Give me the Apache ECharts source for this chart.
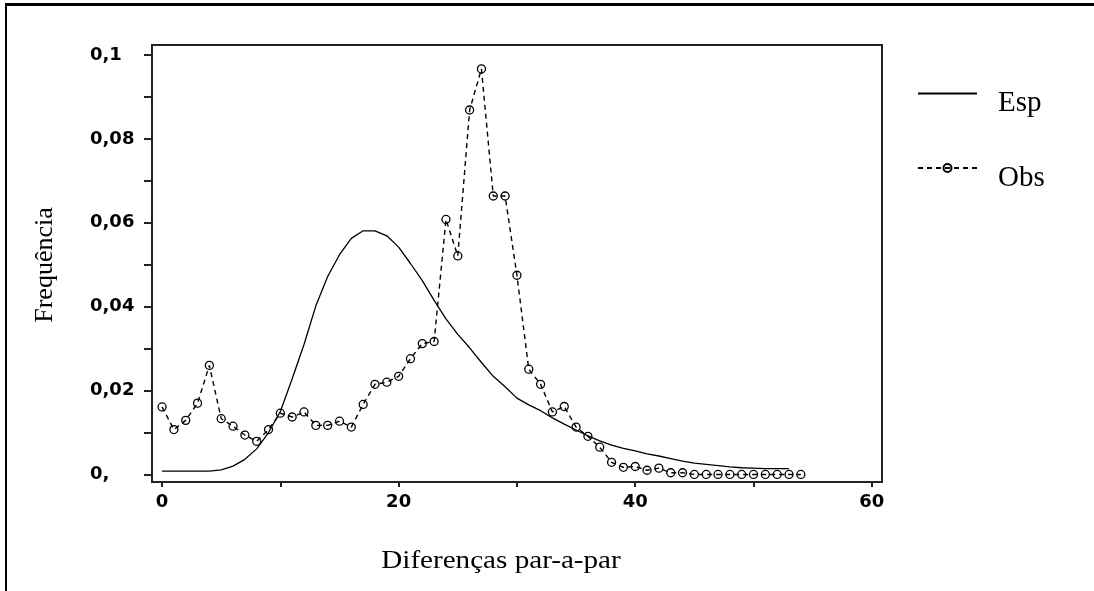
<!DOCTYPE html>
<html>
<head>
<meta charset="utf-8">
<script src="https://cdn.jsdelivr.net/npm/echarts@6/dist/echarts.min.js"></script>
<style>
  html, body { margin: 0; padding: 0; background: #fff; }
  #chart { width: 1094px; height: 591px; }
</style>
</head>
<body>
<div id="chart"></div>
<script>
// Pairwise differences (0..54)
const diffs = [0,1,2,3,4,5,6,7,8,9,10,11,12,13,14,15,16,17,18,19,20,21,22,23,24,25,26,27,28,29,30,31,32,33,34,35,36,37,38,39,40,41,42,43,44,45,46,47,48,49,50,51,52,53,54];

// Expected frequencies (Esp), defined up to 53
const esp = [0.0008,0.0008,0.0008,0.0008,0.0008,0.0011,0.0020,0.0036,0.0061,0.0100,
             0.0150,0.0228,0.0310,0.0402,0.0472,0.0524,0.0563,0.0581,0.0581,0.0569,
             0.0542,0.0503,0.0462,0.0415,0.0371,0.0334,0.0302,0.0267,0.0234,0.0209,
             0.0182,0.0166,0.0152,0.0135,0.0120,0.0106,0.0092,0.0080,0.0070,0.0062,
             0.0056,0.0049,0.0044,0.0038,0.0032,0.0027,0.0024,0.0021,0.0018,0.0016,
             0.0015,0.0014,0.0014,0.0014];

// Observed frequencies (Obs)
const obs = [0.0161,0.0107,0.0129,0.0170,0.0260,0.0133,0.0115,0.0094,0.0079,0.0107,
             0.0146,0.0137,0.0149,0.0117,0.0117,0.0127,0.0113,0.0167,0.0215,0.0220,
             0.0234,0.0276,0.0312,0.0317,0.0608,0.0521,0.0869,0.0967,0.0664,0.0664,
             0.0475,0.0251,0.0215,0.0149,0.0162,0.0113,0.0091,0.0065,0.0029,0.0017,
             0.0019,0.0010,0.0015,0.0004,0.0004,0,0,0,0,0,
             0,0,0,0,0];

// Axis ticks and labels
const xTickValues = [0,10,20,30,40,50,60];
const xLabelValues = [0,20,40,60];
const yTickValues = [0,0.01,0.02,0.03,0.04,0.05,0.06,0.07,0.08,0.09,0.1];
const yLabelValues = [0,0.02,0.04,0.06,0.08,0.1];
const yTickLabels = ['0,','0,02','0,04','0,06','0,08','0,1'];

const xTitle = 'Diferenças par-a-par';
const yTitle = 'Frequência';
const seriesNames = ['Esp','Obs'];

const espData = esp.map((v, i) => [diffs[i], v]);
const obsData = obs.map((v, i) => [diffs[i], v]);

const tickFont = { fontFamily: 'DejaVu Sans', fontWeight: 'bold', fontSize: 18, color: '#000' };
const serif = '"Liberation Serif", "Times New Roman", serif';
const frameColor = '#222';

const chart = echarts.init(document.getElementById('chart'), null, { renderer: 'canvas' });
chart.setOption({
  animation: false,
  backgroundColor: '#fff',
  grid: {
    left: 152, top: 45, width: 730, height: 437,
    show: true, borderColor: frameColor, borderWidth: 2, backgroundColor: 'transparent'
  },
  xAxis: {
    type: 'value', min: -0.85, max: 60.86,
    axisLine: { show: true, onZero: false, lineStyle: { color: frameColor, width: 2 } },
    axisTick: { show: true, length: 5, customValues: xTickValues, lineStyle: { color: frameColor, width: 2 } },
    axisLabel: { show: true, margin: 11, customValues: xLabelValues, ...tickFont },
    splitLine: { show: false }
  },
  yAxis: {
    type: 'value', min: -0.0018, max: 0.1024,
    axisLine: { show: true, onZero: false, lineStyle: { color: frameColor, width: 2 } },
    axisTick: { show: true, length: 8, customValues: yTickValues, lineStyle: { color: frameColor, width: 2 } },
    axisLabel: {
      show: true, margin: 62, align: 'left', customValues: yLabelValues, ...tickFont,
      formatter: (v) => {
        const k = yLabelValues.findIndex(t => Math.abs(t - v) < 1e-9);
        return k >= 0 ? yTickLabels[k] : '';
      }
    },
    splitLine: { show: false }
  },
  legend: {
    orient: 'vertical', left: 917, top: 89, padding: 0,
    itemWidth: 59, itemHeight: 10, itemGap: 45,
    data: [
      { name: seriesNames[0], itemStyle: { opacity: 0 } },
      { name: seriesNames[1] }
    ],
    formatter: '{t|{name}}',
    textStyle: {
      color: '#000',
      rich: { t: { fontFamily: serif, fontSize: 29, color: '#000', padding: [20, 0, 0, 16] } }
    }
  },
  series: [
    {
      name: seriesNames[0], type: 'line', data: espData,
      showSymbol: false, symbol: 'none',
      lineStyle: { color: '#000', width: 1.3 },
      itemStyle: { color: '#000' }
    },
    {
      name: seriesNames[1], type: 'line', data: obsData,
      symbol: 'circle', symbolSize: 8, showSymbol: true,
      lineStyle: { color: '#000', width: 1.4, type: [5, 4] },
      itemStyle: { color: 'transparent', borderColor: '#000', borderWidth: 1.3 }
    }
  ],
  graphic: [
    { type: 'rect', shape: { x: 5, y: 3, width: 1094, height: 3 }, style: { fill: '#000' }, silent: true },
    { type: 'rect', shape: { x: 5, y: 3, width: 2, height: 591 }, style: { fill: '#000' }, silent: true },
    {
      type: 'text', x: 501, y: 561, scaleX: 1.12, silent: true,
      style: { text: xTitle, font: '26px ' + serif, fill: '#000', textAlign: 'center', textVerticalAlign: 'middle' }
    },
    {
      type: 'text', x: 45, y: 265, rotation: Math.PI / 2, silent: true,
      style: { text: yTitle, font: '26px ' + serif, fill: '#000', textAlign: 'center', textVerticalAlign: 'middle' }
    }
  ]
});
</script>
</body>
</html>
